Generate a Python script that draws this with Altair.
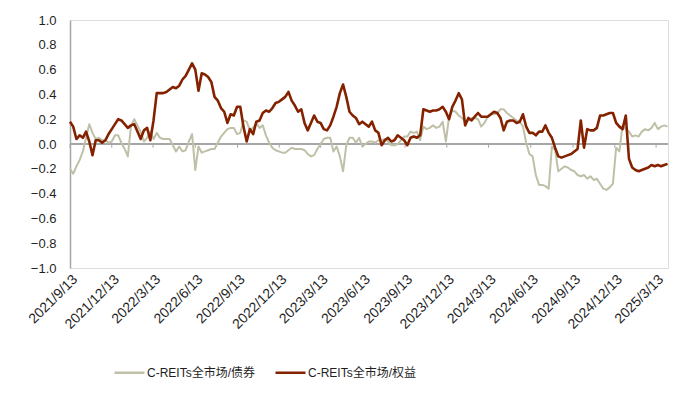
import altair as alt
import pandas as pd

# ---------------- data ----------------
start_date = "2021-09-13"
n_weeks = 187
bond_label = "C-REITs全市场/债券"
equity_label = "C-REITs全市场/权益"

bond_values = [
    -0.20, -0.24, -0.18, -0.13, -0.06, 0.05, 0.16, 0.09, 0.04, 0.05,
    0.03, 0.03, 0.01, 0.02, 0.07, 0.07, 0.01, -0.04, -0.10, 0.15,
    0.20, 0.15, 0.10, 0.02, 0.05, 0.10, 0.04, 0.09, 0.05, 0.04,
    0.04, 0.04, -0.01, -0.06, -0.02, -0.06, -0.05, 0.02, 0.08, -0.21,
    -0.02, -0.07, -0.06, -0.05, -0.04, -0.04, 0.01, 0.06, 0.09, 0.12,
    0.13, 0.13, 0.08, 0.09, 0.19, 0.18, 0.11, 0.13, 0.17, 0.13,
    0.15, 0.07, 0.01, -0.03, -0.05, -0.06, -0.07, -0.07, -0.05, -0.03,
    -0.04, -0.04, -0.04, -0.05, -0.08, -0.10, -0.09, -0.04, 0.00, 0.04,
    0.05, 0.05, -0.06, -0.02, -0.10, -0.22, -0.01, 0.05, 0.05, 0.01,
    0.05, -0.02, 0.00, 0.02, 0.02, 0.01, 0.03, 0.03, 0.04, 0.02,
    -0.01, -0.01, 0.00, 0.03, 0.06, 0.06, 0.10, 0.09, 0.10, 0.03,
    0.14, 0.12, 0.13, 0.15, 0.13, 0.14, 0.18, 0.02, 0.22, 0.27,
    0.26, 0.23, 0.21, 0.18, 0.19, 0.21, 0.21, 0.20, 0.14, 0.17,
    0.22, 0.24, 0.24, 0.25, 0.28, 0.28, 0.25, 0.23, 0.21, 0.19,
    0.18, 0.14, 0.01, -0.08, -0.10, -0.25, -0.33, -0.33, -0.34, -0.36,
    -0.02, -0.05, -0.22, -0.20, -0.18, -0.19, -0.21, -0.22, -0.25, -0.26,
    -0.25, -0.28, -0.26, -0.29, -0.28, -0.32, -0.36, -0.37, -0.35, -0.32,
    -0.03, -0.06, 0.15, 0.12, 0.10, 0.06, 0.07, 0.06, 0.10, 0.12,
    0.11, 0.13, 0.17, 0.12, 0.14, 0.15, 0.14,
]

equity_values = [
    0.18, 0.14, 0.04, 0.07, 0.05, 0.10, 0.02, -0.09, 0.03, 0.03,
    0.01, 0.03, 0.08, 0.12, 0.16, 0.20, 0.19, 0.16, 0.13, 0.15,
    0.16, 0.10, 0.04, 0.11, 0.13, 0.03, 0.19, 0.41, 0.41, 0.41,
    0.42, 0.44, 0.46, 0.45, 0.47, 0.52, 0.55, 0.60, 0.65, 0.60,
    0.43, 0.57, 0.56, 0.54, 0.50, 0.38, 0.35, 0.29, 0.26, 0.17,
    0.24, 0.23, 0.30, 0.30, 0.14, 0.02, 0.12, 0.08, 0.18, 0.19,
    0.25, 0.27, 0.26, 0.29, 0.33, 0.34, 0.36, 0.38, 0.42, 0.35,
    0.31, 0.26, 0.28, 0.17, 0.11, 0.17, 0.23, 0.18, 0.17, 0.12,
    0.11, 0.15, 0.22, 0.30, 0.41, 0.48, 0.38, 0.26, 0.23, 0.21,
    0.16, 0.18, 0.16, 0.14, 0.18, 0.11, 0.09, -0.01, 0.03, 0.05,
    0.02, 0.03, 0.07, 0.05, 0.03, -0.01, 0.05, 0.06, 0.05, 0.07,
    0.28, 0.27, 0.26, 0.27, 0.27, 0.28, 0.30, 0.26, 0.20, 0.30,
    0.35, 0.41, 0.36, 0.15, 0.21, 0.19, 0.22, 0.25, 0.22, 0.22,
    0.22, 0.24, 0.26, 0.25, 0.21, 0.11, 0.18, 0.19, 0.19, 0.17,
    0.18, 0.24, 0.14, 0.09, 0.09, 0.07, 0.10, 0.10, 0.15, 0.09,
    0.05, -0.03, -0.10, -0.11, -0.10, -0.09, -0.08, -0.06, -0.04, 0.19,
    -0.03, 0.12, 0.11, 0.11, 0.13, 0.23, 0.23, 0.24, 0.25, 0.25,
    0.17, 0.14, 0.12, 0.23, -0.12, -0.19, -0.21, -0.22, -0.21, -0.20,
    -0.19, -0.17, -0.18, -0.17, -0.18, -0.17, -0.16,
]

tick_dates = [
    "2021-09-13", "2021-12-13", "2022-03-13", "2022-06-13", "2022-09-13",
    "2022-12-13", "2023-03-13", "2023-06-13", "2023-09-13", "2023-12-13",
    "2024-03-13", "2024-06-13", "2024-09-13", "2024-12-13", "2025-03-13",
]
x_domain = ["2021-09-13", "2025-04-08"]
y_ticks = [-1.0, -0.8, -0.6, -0.4, -0.2, 0.0, 0.2, 0.4, 0.6, 0.8, 1.0]

# ---------------- styles ----------------
grey = "#C0C0A8"
red = "#842200"
axis_grey = "#A6A6A6"
text_col = "#1F1F1F"
font = "Liberation Sans, Noto Sans CJK SC"

dates = list(pd.date_range(start_date, periods=n_weeks, freq="7D").strftime("%Y-%m-%d"))
df = pd.DataFrame({
    "date": dates + dates,
    "value": bond_values + equity_values,
    "series": [bond_label] * n_weeks + [equity_label] * n_weeks,
})
ticks_df = pd.DataFrame({"date": tick_dates})


def dt(s):
    y, m, d = (int(v) for v in s.split("-"))
    return alt.DateTime(year=y, month=m, date=d, utc=True)


x_scale = alt.Scale(type="utc", domain=[dt(x_domain[0]), dt(x_domain[1])])
y_scale = alt.Scale(domain=[-1, 1], nice=False, zero=False)

x_axis = alt.Axis(
    values=[dt(s) for s in tick_dates],
    labelExpr="utcFormat(datum.value, '%Y/%-m/%-d')",
    labelAngle=-45, domain=False, ticks=False, grid=False, title=None,
    labelFontSize=14, labelPadding=4, labelColor=text_col, labelFont=font,
    labelOverlap=False, labelBound=False, labelFlush=False,
)
y_axis = alt.Axis(
    values=y_ticks, format=".1f", ticks=False, grid=False, title=None,
    domainColor=axis_grey, domainWidth=1.5, labelFontSize=13, labelPadding=14,
    labelColor=text_col, labelFont=font, labelOverlap=False, labelFlush=False,
)
x_enc = alt.X("date:T", scale=x_scale, axis=x_axis)
y_enc = alt.Y("value:Q", scale=y_scale, axis=y_axis)

color_enc = alt.Color(
    "series:N",
    scale=alt.Scale(domain=[bond_label, equity_label], range=[grey, red]),
    legend=alt.Legend(
        orient="none", legendX=43, legendY=336, direction="horizontal",
        title=None, symbolType="stroke", symbolSize=900, symbolStrokeWidth=2.5,
        labelFontSize=12, labelFont=font, labelColor=text_col,
        columnPadding=14, labelOffset=1,
    ),
)

zero_line = alt.Chart(ticks_df).mark_rule(color=axis_grey, strokeWidth=1.5).encode(
    y=alt.YDatum(0, type="quantitative", scale=y_scale, axis=y_axis)
)
tick_marks = alt.Chart(ticks_df).mark_rule(color=axis_grey, strokeWidth=1).encode(
    x=x_enc,
    y=alt.YDatum(0, type="quantitative", scale=y_scale, axis=y_axis),
    y2=alt.Y2Datum(-0.03),
)

base = alt.Chart(df)
bond_line = base.transform_filter(alt.datum.series == bond_label).mark_line(
    strokeWidth=2, strokeJoin="round"
).encode(x=x_enc, y=y_enc, color=color_enc)
equity_line = base.transform_filter(alt.datum.series == equity_label).mark_line(
    strokeWidth=2.6, strokeJoin="round"
).encode(x=x_enc, y=y_enc, color=color_enc)

chart = alt.layer(zero_line, tick_marks, bond_line, equity_line).properties(
    width=598,
    height=248,
    autosize=alt.AutoSizeParams(type="none"),
    padding={"left": 62, "top": 12, "right": 24, "bottom": 123},
).configure_view(stroke=None).configure(font=font)

chart.save("out.html", embed_options={"renderer": "svg", "actions": False})
